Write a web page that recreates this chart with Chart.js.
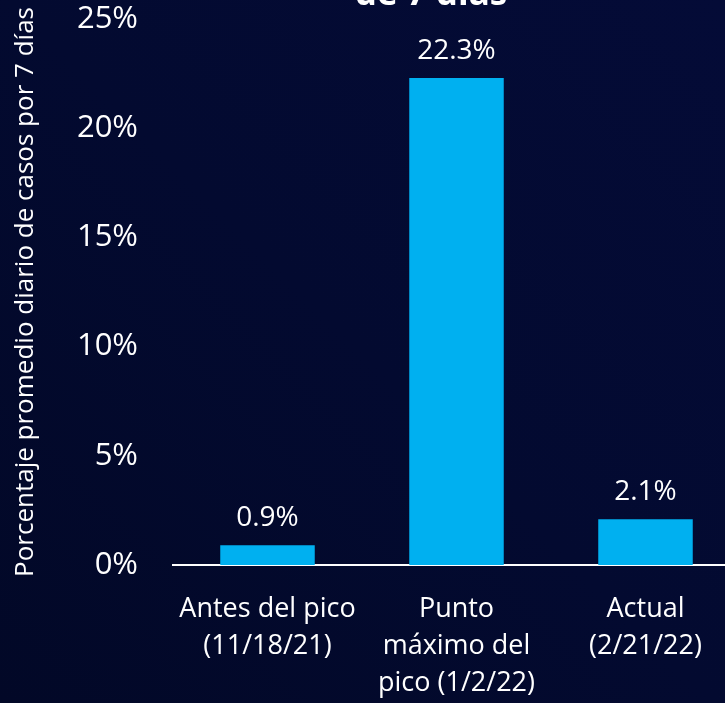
<!DOCTYPE html>
<html>
<head>
<meta charset="utf-8">
<script src="https://cdn.jsdelivr.net/npm/chart.js@4"></script>
<style>
  html, body { margin: 0; padding: 0; overflow: hidden; height: 703px; }
  body { background: linear-gradient(45deg, #020827 0%, #030a30 50%, #040b37 100%); }
  #wrap { position: absolute; left: 0; top: 0; width: 745px; height: 703px; }
</style>
</head>
<body>
<div id="wrap"><canvas id="chart" width="745" height="703"></canvas></div>
<script>
// Chart data
const categories = [
    ['Antes del pico', '(11/18/21)'],
    ['Punto', 'máximo del', 'pico (1/2/22)'],
    ['Actual', '(2/21/22)']
];
const values = [0.9, 22.3, 2.1];
const yTicks = [0, 5, 10, 15, 20, 25];
const titleText = 'de 7 días';
const yAxisTitle = 'Porcentaje promedio diario de casos por 7 días';

const font = "'Open Sans', sans-serif";

// Value labels above each bar
const barLabels = {
    id: 'barLabels',
    afterDatasetsDraw(chart) {
        const ctx = chart.ctx;
        const meta = chart.getDatasetMeta(0);
        ctx.save();
        ctx.fillStyle = '#ffffff';
        ctx.font = `28px ${font}`;
        ctx.textAlign = 'center';
        ctx.textBaseline = 'alphabetic';
        meta.data.forEach((bar, i) => {
            ctx.fillText(values[i].toFixed(1) + '%', bar.x, bar.y - 19);
        });
        ctx.restore();
    }
};

// Title is cut off at the top of the picture, only the last line shows
const cutTitle = {
    id: 'cutTitle',
    afterDraw(chart) {
        const ctx = chart.ctx;
        ctx.save();
        ctx.fillStyle = '#ffffff';
        ctx.font = `bold 35px ${font}`;
        ctx.textAlign = 'center';
        ctx.textBaseline = 'alphabetic';
        ctx.fillText(titleText, 431, 5);
        ctx.restore();
    }
};

new Chart(document.getElementById('chart'), {
    type: 'bar',
    data: {
        labels: categories,
        datasets: [{
            data: values,
            backgroundColor: '#00b0f0',
            categoryPercentage: 1,
            barPercentage: 0.5
        }]
    },
    options: {
        responsive: false,
        animation: false,
        layout: { padding: { left: 0, right: 5, top: 0, bottom: 0 } },
        plugins: {
            legend: { display: false },
            tooltip: { enabled: false }
        },
        scales: {
            x: {
                grid: { display: false },
                border: { display: true, color: '#ffffff', width: 2 },
                ticks: {
                    color: '#ffffff',
                    font: { family: font, size: 27, lineHeight: '37px' },
                    padding: 18,
                    maxRotation: 0,
                    autoSkip: false
                },
                afterFit(scale) { scale.height = 138; }
            },
            y: {
                min: 0,
                max: 25,
                grid: { display: false, drawTicks: false },
                border: { display: false },
                afterBuildTicks(scale) {
                    scale.ticks = yTicks.map(v => ({ value: v }));
                },
                ticks: {
                    color: '#ffffff',
                    font: { family: font, size: 31 },
                    padding: 35,
                    callback: v => v + '%'
                },
                title: {
                    display: true,
                    text: yAxisTitle,
                    color: '#ffffff',
                    font: { family: font, size: 26 },
                    padding: { top: 10, bottom: 0 }
                },
                afterFit(scale) {
                    scale.width = 173;
                    scale.paddingTop = 19;
                    scale.paddingBottom = 0;
                }
            }
        }
    },
    plugins: [barLabels, cutTitle]
});
</script>
</body>
</html>
